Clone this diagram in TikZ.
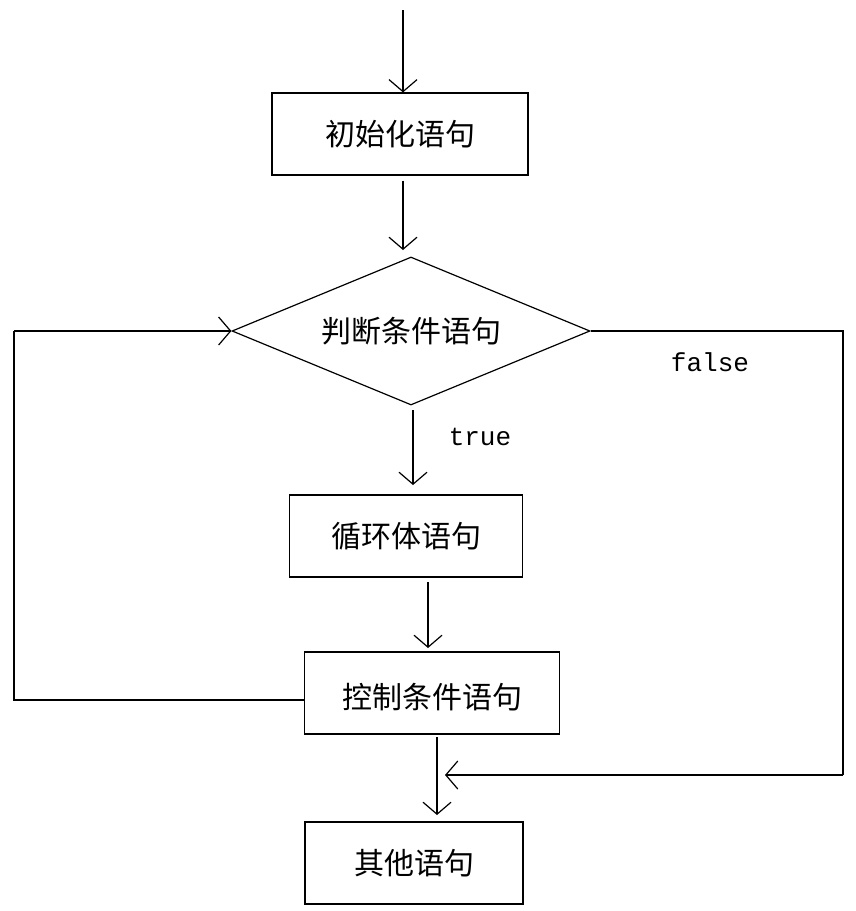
\documentclass[tikz,border=0pt]{standalone}
\usepackage{fontspec}
\newfontfamily\cjk{Noto Sans CJK SC}
\newfontfamily\mono{Liberation Mono}
\usetikzlibrary{arrows.meta,shapes.geometric}
\begin{document}
\begin{tikzpicture}[x=1pt,y=-1pt,
  box/.style={draw,line width=1.2pt,minimum height=82pt,font=\cjk\fontsize{30}{32}\selectfont,inner sep=0pt},
  arr/.style={line width=1.2pt,-{Straight Barb[length=12pt,width=28pt]}},
  ln/.style={line width=1.2pt},
  lbl/.style={font=\mono\fontsize{26}{28}\selectfont}]
\useasboundingbox (0,0) rectangle (856,911);
\fill[white] (0,0) rectangle (856,911);
\coordinate (top) at (403,10);
\node[box,minimum width=256pt] (b1) at (400,134) {初始化语句};
\node[draw,line width=1.2pt,diamond,shape aspect=2.42,minimum width=358pt,minimum height=148pt,inner sep=0pt,
  font=\cjk\fontsize{30}{32}\selectfont] (d) at (411,331) {判断条件语句};
\node[box,minimum width=233pt] (b3) at (406,536) {循环体语句};
\node[box,minimum width=255pt] (b4) at (432,693) {};
\node[font=\cjk\fontsize{30}{32}\selectfont] (t4) at (432,697) {控制条件语句};
\node[box,minimum width=218pt] (b5) at (414,863) {其他语句};
\coordinate (lc) at (14,700);
\coordinate (rc) at (843,775);
\draw[arr] (top) -- (top |- b1.north);
\draw[arr] (top |- b1.south) ++(0,5) -- (403,250);
\draw[arr] (413,410) -- (413,485);
\node[lbl] at (480,437) {true};
\draw[arr] (428,582) -- (428,648);
\draw[arr] (437,737) -- (437,815);
\draw[ln] (b4.west |- lc) -- (lc) -- (lc |- d.west);
\draw[arr] (lc |- d.west) -- (d.west);
\draw[ln] (d.east) -- (rc |- d.east) -- (rc);
\draw[arr] (rc) -- (445,775);
\node[lbl] at (710,362) {false};
\end{tikzpicture}
\end{document}
